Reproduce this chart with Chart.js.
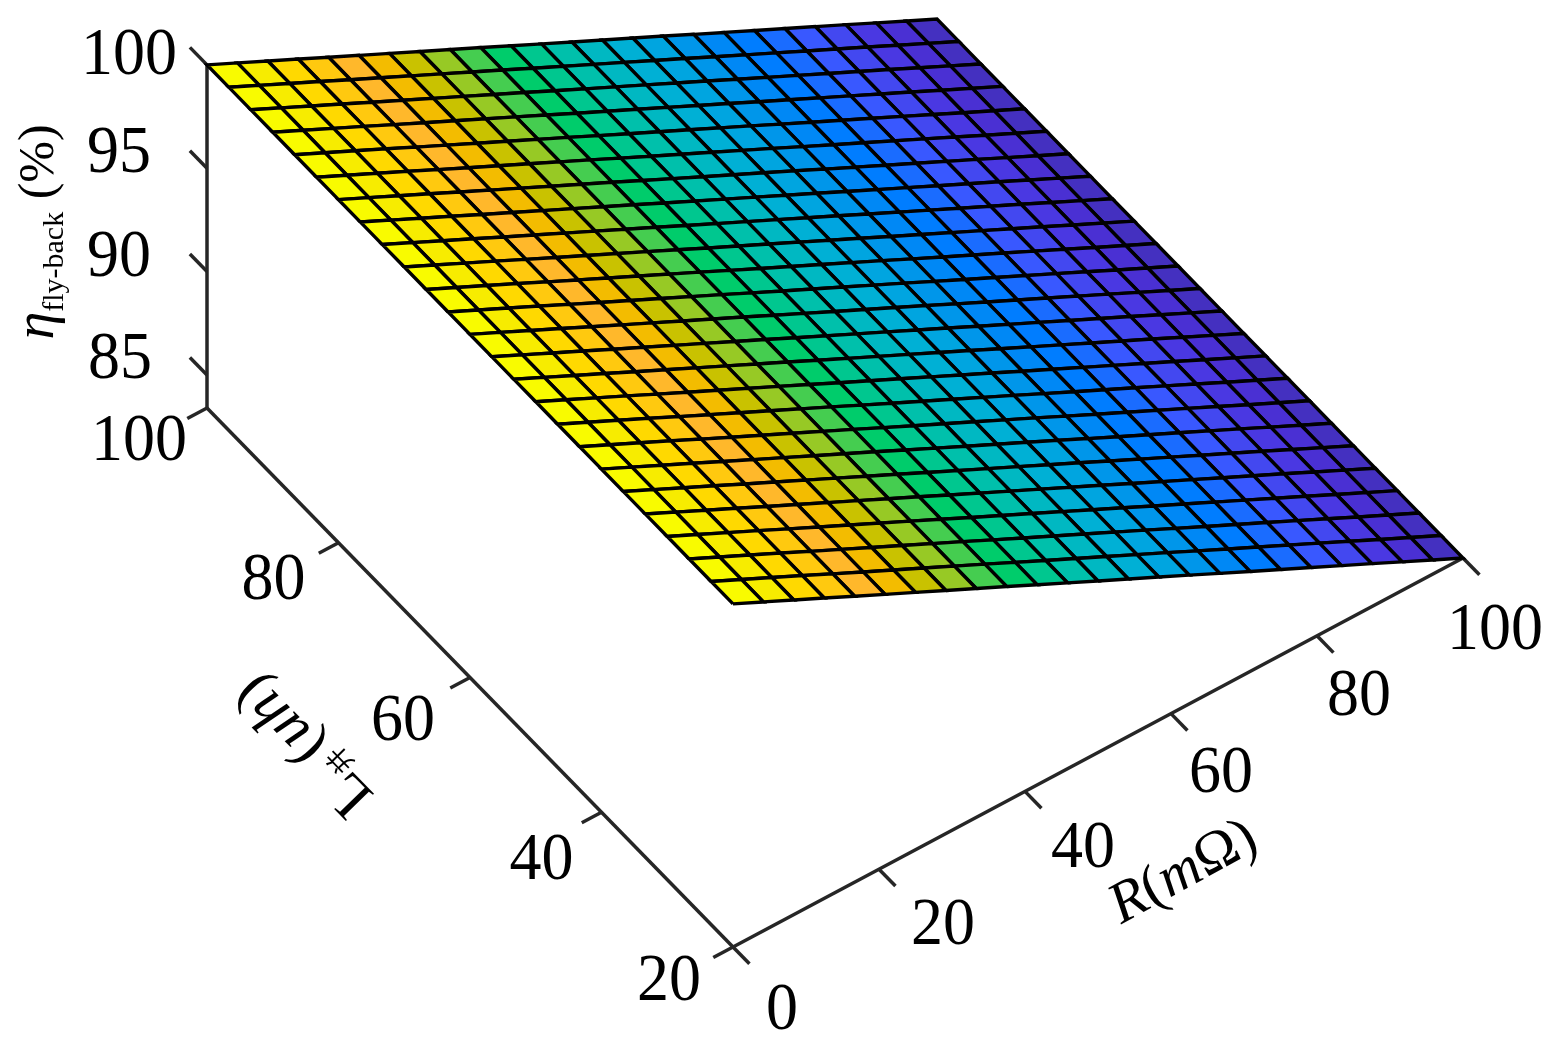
<!DOCTYPE html>
<html>
<head>
<meta charset="utf-8">
<title>eta fly-back surface</title>
<script src="https://cdn.jsdelivr.net/npm/chart.js@4"></script>
<style>
  html, body { margin: 0; padding: 0; background: #fff; }
  canvas { display: block; }
</style>
</head>
<body>
<canvas id="chart" width="1559" height="1046"></canvas>
<script>
// ─── Data ─────────────────────────────────────────────────────────────────────
const R_GRID = [0, 4.17, 8.33, 12.5, 16.67, 20.83, 25, 29.17, 33.33, 37.5, 41.67, 45.83, 50,
                54.17, 58.33, 62.5, 66.67, 70.83, 75, 79.17, 83.33, 87.5, 91.67, 95.83, 100];
const L_GRID = [20, 23.33, 26.67, 30, 33.33, 36.67, 40, 43.33, 46.67, 50, 53.33, 56.67, 60,
                63.33, 66.67, 70, 73.33, 76.67, 80, 83.33, 86.67, 90, 93.33, 96.67, 100];
// efficiency does not visibly change with L, one value per R grid line
const ETA_BY_R = [100, 99.31, 98.62, 97.93, 97.23, 96.54, 95.85, 95.16, 94.47, 93.78, 93.08, 92.39, 91.7,
                  91.01, 90.32, 89.63, 88.93, 88.24, 87.55, 86.86, 86.17, 85.48, 84.78, 84.09, 83.4];
const COLUMN_COLORS = ['#f9fb00', '#f7ec00', '#ffd900', '#ffc90f', '#ffb82b', '#f3bc00', '#c9c200', '#97c925',
                       '#45cd50', '#00cc6b', '#00c78f', '#00c0ab', '#00b8c2', '#00b0d5', '#00a5e0', '#0096ea',
                       '#0088f5', '#007dff', '#1a6cff', '#3958ff', '#4348f0', '#4a38e2', '#4a30d3', '#4430c0'];

const R_TICKS = [0, 20, 40, 60, 80, 100];
const L_TICKS = [20, 40, 60, 80, 100];
const ETA_TICKS = [85, 90, 95, 100];
const ETA_FLOOR = 83.4;

// Label offsets from the tick root, in px
const R_LABEL_OFFSET = [[49, 64], [64, 57], [58, 58], [50, 60], [42, 61], [32, 73]];
const L_LABEL_OFFSET = [[-64, 35], [-60, 49], [-67, 45], [-65, 38], [-68, 34]];
const ETA_LABEL_OFFSET = [[-87, -15], [-88, -14], [-88, -14], [-78, -9]];

const FONT = '"Liberation Serif"';
const AXIS_COLOR = '#262626';

// Fixed 3D view → page coordinates
function project(r, l, eta) {
  return {
    x: 207 + 7.3 * r + 6.575 * (100 - l),
    y: 408 - 3.89 * r + 6.7375 * (100 - l) - 20.67 * (eta - ETA_FLOOR),
  };
}

// ─── Datasets ─────────────────────────────────────────────────────────────────
const datasets = [];

for (let j = 0; j < L_GRID.length - 1; j++) {
  for (let i = 0; i < R_GRID.length - 1; i++) {
    datasets.push({
      data: [
        project(R_GRID[i],     L_GRID[j],     ETA_BY_R[i]),
        project(R_GRID[i + 1], L_GRID[j],     ETA_BY_R[i + 1]),
        project(R_GRID[i + 1], L_GRID[j + 1], ETA_BY_R[i + 1]),
        project(R_GRID[i],     L_GRID[j + 1], ETA_BY_R[i]),
        project(R_GRID[i],     L_GRID[j],     ETA_BY_R[i]),
      ],
      showLine: true,
      fill: 'shape',
      backgroundColor: COLUMN_COLORS[i],
      borderColor: '#000',
      borderWidth: 3.4,
      pointRadius: 0,
    });
  }
}

function axisLine(points) {
  datasets.push({
    data: points,
    showLine: true,
    fill: false,
    borderColor: AXIS_COLOR,
    borderWidth: 3.5,
    pointRadius: 0,
  });
}

// Axis lines
axisLine([project(0, 100, ETA_FLOOR), project(0, 100, 100)]);
axisLine([project(0, 100, ETA_FLOOR), project(0, 20, ETA_FLOOR)]);
axisLine([project(0, 20, ETA_FLOOR), project(100, 20, ETA_FLOOR)]);
// Tick marks
ETA_TICKS.forEach(v => axisLine([project(0, 100, v), project(0, 102.6, v)]));
L_TICKS.forEach(v => axisLine([project(0, v, ETA_FLOOR), project(-2.7, v, ETA_FLOOR)]));
R_TICKS.forEach(v => axisLine([project(v, 20, ETA_FLOOR), project(v, 17.5, ETA_FLOOR)]));

// ─── Text ─────────────────────────────────────────────────────────────────────
// Draws mixed runs along one baseline, centred on (x, y), rotated by angle
function drawRuns(ctx, x, y, angle, runs) {
  ctx.save();
  ctx.translate(x, y);
  ctx.rotate(angle);
  ctx.fillStyle = '#000';
  ctx.textAlign = 'left';
  ctx.textBaseline = 'alphabetic';
  let total = 0;
  runs.forEach(run => { ctx.font = run.font; total += ctx.measureText(run.text).width; });
  let cursor = -total / 2;
  runs.forEach(run => {
    ctx.font = run.font;
    ctx.fillText(run.text, cursor, run.dy || 0);
    cursor += ctx.measureText(run.text).width;
  });
  ctx.restore();
}

const labelsPlugin = {
  id: 'labels3d',
  afterDraw(chart) {
    const { ctx, scales } = chart;
    const px = p => ({ x: scales.x.getPixelForValue(p.x), y: scales.y.getPixelForValue(p.y) });

    function tickLabel(p, off, text) {
      const { x, y } = px(p);
      ctx.save();
      ctx.translate(x + off[0], y + off[1]);
      ctx.scale(1, 1.07); // the reference digits are a little taller than wide
      ctx.font = `64px ${FONT}`;
      ctx.fillStyle = '#000';
      ctx.textAlign = 'center';
      ctx.textBaseline = 'middle';
      ctx.fillText(text, 0, 0);
      ctx.restore();
    }

    R_TICKS.forEach((v, i) => tickLabel(project(v, 20, ETA_FLOOR), R_LABEL_OFFSET[i], String(v)));
    L_TICKS.forEach((v, i) => tickLabel(project(0, v, ETA_FLOOR), L_LABEL_OFFSET[i], String(v)));
    ETA_TICKS.forEach((v, i) => tickLabel(project(0, 100, v), ETA_LABEL_OFFSET[i], String(v)));

    // Axis titles
    drawRuns(ctx, 53, 232, -Math.PI / 2, [
      { text: 'η', font: `italic 56px ${FONT}` },
      { text: 'fly-back', font: `30px ${FONT}`, dy: 10 },
      { text: ' (%)', font: `50px ${FONT}` },
    ]);
    drawRuns(ctx, 1191, 886, -0.5, [
      { text: 'R', font: `italic 58px ${FONT}` },
      { text: '(', font: `58px ${FONT}` },
      { text: 'm', font: `italic 58px ${FONT}` },
      { text: 'Ω', font: `58px ${FONT}` },
      { text: ')', font: `58px ${FONT}` },
    ]);
    drawRuns(ctx, 316, 734, Math.PI + 0.8, [
      { text: 'L', font: `60px ${FONT}` },
      { text: '并', font: `26px "Noto Sans CJK SC"`, dy: 8 },
      { text: ' ', font: `30px ${FONT}` },
      { text: '(', font: `60px ${FONT}` },
      { text: 'uh', font: `italic 60px ${FONT}` },
      { text: ')', font: `60px ${FONT}` },
    ]);
  },
};

// ─── Chart ────────────────────────────────────────────────────────────────────
new Chart(document.getElementById('chart').getContext('2d'), {
  type: 'scatter',
  data: { datasets },
  plugins: [labelsPlugin],
  options: {
    responsive: false,
    animation: false,
    layout: { padding: 0 },
    clip: false,
    elements: { line: { tension: 0, borderJoinStyle: 'miter', borderCapStyle: 'butt' } },
    plugins: { legend: { display: false }, tooltip: { enabled: false }, title: { display: false } },
    scales: {
      x: { type: 'linear', min: 0, max: 1559, display: false },
      y: { type: 'linear', min: 0, max: 1046, reverse: true, display: false },
    },
  },
});
</script>
</body>
</html>
